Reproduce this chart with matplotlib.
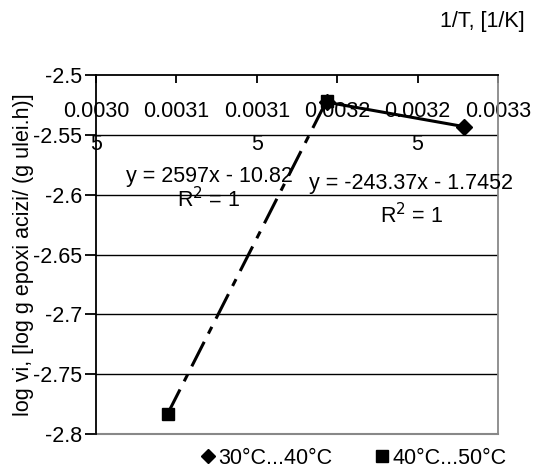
import matplotlib
matplotlib.use("Agg")
import matplotlib.pyplot as plt
from matplotlib.lines import Line2D

plt.rcParams['font.family'] = ['Liberation Sans', 'DejaVu Sans']

# Data
x_30_40 = [0.0031934, 0.0032787]
y_30_40 = [-2.5227, -2.5431]
x_40_50 = [0.0030945, 0.0031934]
y_40_50 = [-2.7833, -2.5216]
series_labels = ['30°C...40°C', '40°C...50°C']
x_ticks = [0.00305, 0.0031, 0.00315, 0.0032, 0.00325, 0.0033]
x_ticklabels = ['0.0030\n5', '0.0031', '0.0031\n5', '0.0032', '0.0032\n5', '0.0033']
y_ticks = [-2.5, -2.55, -2.6, -2.65, -2.7, -2.75, -2.8]
y_ticklabels = ['-2.5', '-2.55', '-2.6', '-2.65', '-2.7', '-2.75', '-2.8']
eq1 = 'y = 2597x - 10.82'
eq2 = 'y = -243.37x - 1.7452'
r2 = 'R$^2$ = 1'

FS = 15.5

fig = plt.figure(figsize=(5.33, 4.68), dpi=100)
ax = fig.add_axes([96/533, 1-434/468, 402/533, 359/468])

ax.set_xlim(0.00305, 0.0033)
ax.set_ylim(-2.8, -2.5)

# gridlines
for yv in y_ticks[1:-1]:
    ax.axhline(yv, color='black', lw=1.0, zorder=1)

ax.plot(x_30_40, y_30_40, color='black', lw=2.2, ls='-', zorder=3)
ax.plot(x_40_50, y_40_50, color='black', lw=2.2, ls=(0, (9, 3, 2.5, 3)), zorder=3)
ax.plot(x_30_40, y_30_40, ls='none', marker='D', color='black', ms=8, zorder=4)
ax.plot(x_40_50, y_40_50, ls='none', marker='s', color='black', ms=8.5, zorder=5)

# axes styling: x axis at y=-2.5 (top), labels below it
ax.spines['bottom'].set_position(('data', -2.5))
ax.spines['bottom'].set_color('black')
ax.spines['top'].set_visible(False)
ax.spines['right'].set_color('#888888')
ax.spines['right'].set_linewidth(1.3)
ax.spines['left'].set_linewidth(1.3)
ax.spines['bottom'].set_linewidth(1.3)
ax.axhline(-2.8, color='#888888', lw=1.5, clip_on=False, zorder=2)

ax.set_xticks(x_ticks)
ax.set_xticklabels(x_ticklabels, fontsize=FS)
for t in ax.get_xticklabels():
    t.set_linespacing(1.75)
ax.tick_params(axis='x', direction='out', length=6, width=1.3, pad=13)

ax.set_yticks(y_ticks)
ax.set_yticklabels(y_ticklabels, fontsize=FS)
ax.tick_params(axis='y', direction='out', length=8, width=1.3, pad=2)

ax.set_ylabel('log vi, [log g epoxi acizi/ (g ulei.h)]', fontsize=15.5)
ax.yaxis.set_label_coords(-0.155, 0.5)

fig.text(525/533, 1-22/468, '1/T, [1/K]', fontsize=FS, ha='right', va='center')

# trendline labels
ax.text(0.281, 0.718, eq1, transform=ax.transAxes, fontsize=FS, ha='center', va='center')
ax.text(0.279, 0.652, r2, transform=ax.transAxes, fontsize=FS, ha='center', va='center')
ax.text(0.784, 0.699, eq2, transform=ax.transAxes, fontsize=FS, ha='center', va='center')
ax.text(0.784, 0.607, r2, transform=ax.transAxes, fontsize=FS, ha='center', va='center')

handles = [Line2D([], [], ls='none', marker='D', color='black', ms=7),
           Line2D([], [], ls='none', marker='s', color='black', ms=8)]
fig.legend(handles, series_labels, loc='center', bbox_to_anchor=(354/533, 1-458/468),
           ncol=2, frameon=False, fontsize=FS, handlelength=0.6, handletextpad=0.2,
           columnspacing=2.0, borderpad=0)

fig.savefig('out.png', dpi=100)
